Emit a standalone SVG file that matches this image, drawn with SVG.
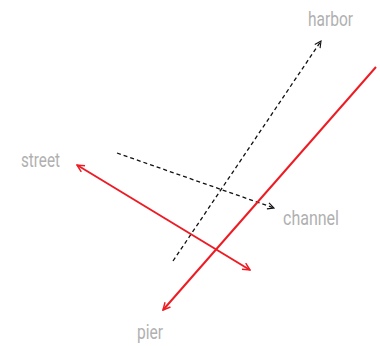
<svg xmlns="http://www.w3.org/2000/svg" width="380" height="346" viewBox="0 0 380 346">
<defs>
<style>
.lbl{font-family:Roboto,"Liberation Sans",sans-serif;font-size:20px;fill:#b0b0b0;}
.red{stroke:#ed1c24;stroke-width:2;fill:none;}
.dash{stroke:#111;stroke-width:1.3;stroke-dasharray:4,3;fill:none;}
</style>
<marker id="ar" viewBox="0 0 10 10" refX="9" refY="5" markerWidth="9" markerHeight="9" markerUnits="userSpaceOnUse" orient="auto-start-reverse">
<path d="M1,1 L9,5 L1,9" fill="none" stroke="#ed1c24" stroke-width="1.6"/>
</marker>
<marker id="ad" viewBox="0 0 10 10" refX="9" refY="5" markerWidth="8" markerHeight="8" markerUnits="userSpaceOnUse" orient="auto">
<path d="M1,1 L9,5 L1,9" fill="none" stroke="#111" stroke-width="1.4"/>
</marker>
</defs>
<rect width="380" height="346" fill="#fff"/>
<g id="connectors">
<line class="dash" x1="173" y1="261" x2="321" y2="41" marker-end="url(#ad)"/>
<line class="dash" x1="117" y1="153" x2="274" y2="208" marker-end="url(#ad)"/>
<line class="red" x1="77" y1="165" x2="250" y2="270" marker-start="url(#ar)" marker-end="url(#ar)"/>
<line class="red" x1="376" y1="67" x2="163" y2="310" marker-end="url(#ar)"/>
</g>
<g id="harbor"><text class="lbl" x="308" y="26" textLength="45" lengthAdjust="spacingAndGlyphs">harbor</text></g>
<g id="street"><text class="lbl" x="21" y="167" textLength="39" lengthAdjust="spacingAndGlyphs">street</text></g>
<g id="channel"><text class="lbl" x="283" y="225" textLength="56" lengthAdjust="spacingAndGlyphs">channel</text></g>
<g id="pier"><text class="lbl" x="137" y="339" textLength="26" lengthAdjust="spacingAndGlyphs">pier</text></g>
</svg>
